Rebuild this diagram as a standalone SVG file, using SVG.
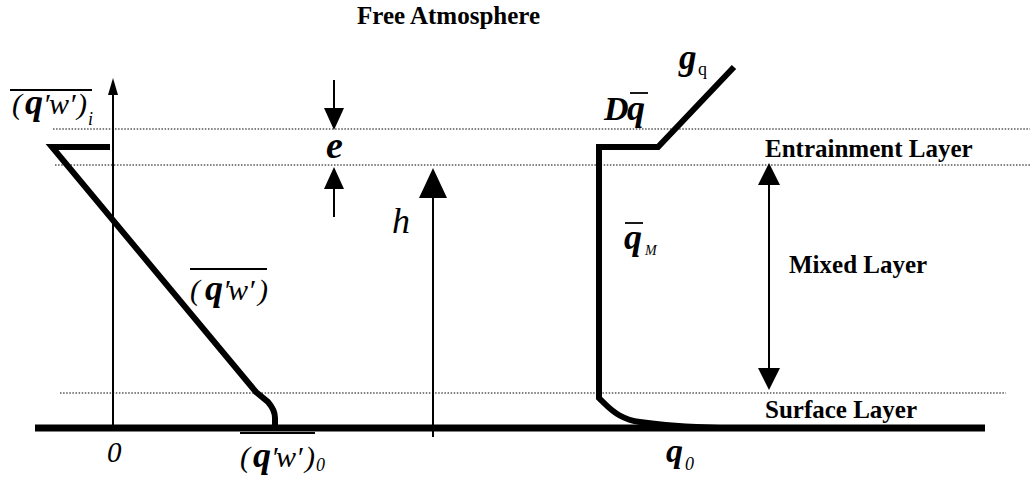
<svg xmlns="http://www.w3.org/2000/svg" width="1036" height="477" viewBox="0 0 1036 477">
<style>
.lbl{font-family:"Liberation Serif","Times New Roman",serif;font-weight:bold;font-size:25px;fill:#000}
.it{font-family:"Liberation Serif","Times New Roman",serif;font-style:italic;fill:#000}
.bi{font-family:"Liberation Serif","Times New Roman",serif;font-style:italic;font-weight:bold;fill:#000}
.b{font-weight:bold}
.rm{font-style:normal}
.dot{stroke:#000;stroke-width:1.2;stroke-dasharray:1.5 1.6;fill:none}
.thick{stroke:#000;stroke-width:6;fill:none;stroke-linejoin:miter}
.thin{stroke:#000;stroke-width:2;fill:none}
.ol{stroke:#000;stroke-width:1.8}
.head{fill:#000}
</style>
<rect width="1036" height="477" fill="#fff"/>
<g id="layers">
<line class="dot" x1="53" y1="129" x2="1030" y2="129"/>
<line class="dot" x1="55" y1="165" x2="1030" y2="165"/>
<line class="dot" x1="60" y1="393" x2="1006" y2="393"/>
</g>
<g id="ground"><line x1="35" y1="428" x2="985" y2="428" stroke="#000" stroke-width="7"/></g>
<g id="connectors">
<line class="thin" x1="113" y1="428" x2="113" y2="92"/>
<polygon class="head" points="113,78 108,95 118,95"/>
<line class="thin" x1="334" y1="80" x2="334" y2="110"/>
<polygon class="head" points="334,130 324,108 344,108"/>
<line class="thin" x1="334" y1="187" x2="334" y2="217"/>
<polygon class="head" points="334,167 324,189 344,189"/>
<line class="thin" x1="433" y1="196" x2="433" y2="437"/>
<polygon class="head" points="433,168 419,198 447,198"/>
<line class="thin" x1="769" y1="183" x2="769" y2="370"/>
<polygon class="head" points="769,163 758,185 780,185"/>
<polygon class="head" points="769,390 758,368 780,368"/>
</g>
<g id="flux-profile">
<path class="thick" d="M110,147 L52,147 L256,392 L268,402 Q275,410 275,418 L275,428"/>
</g>
<g id="theta-profile">
<path class="thick" d="M734,67 L658,147 L599,147 L599,398 L604,403 C614,413 624,420 640,422 C660,425 685,427 720,428"/>
</g>
<g id="label-flux-i">
<line class="ol" x1="10" y1="90" x2="92" y2="90"/>
<text class="it" font-size="30" y="114"><tspan x="12">(</tspan><tspan x="25" class="b" font-size="36">q</tspan><tspan x="43">′</tspan><tspan x="49">w</tspan><tspan x="69">′</tspan><tspan x="77">)</tspan><tspan x="88" y="125" font-size="18">i</tspan></text>
</g>
<g id="label-flux">
<line class="ol" x1="190" y1="269" x2="267" y2="269"/>
<text class="it" font-size="30" y="300"><tspan x="190">(</tspan><tspan x="205" class="b" font-size="36">q</tspan><tspan x="223">′</tspan><tspan x="228">w</tspan><tspan x="248">′</tspan><tspan x="258">)</tspan></text>
</g>
<g id="label-flux-0">
<line class="ol" x1="240" y1="433" x2="315" y2="433"/>
<text class="it" font-size="30" y="467"><tspan x="240">(</tspan><tspan x="253" class="b" font-size="36">q</tspan><tspan x="271">′</tspan><tspan x="276">w</tspan><tspan x="296">′</tspan><tspan x="305">)</tspan><tspan x="316" y="471" font-size="18">0</tspan></text>
</g>
<g id="label-zero"><text class="it" font-size="29" x="107" y="462">0</text></g>
<g id="label-e"><text class="bi" font-size="38" x="326" y="158">e</text></g>
<g id="label-h"><text class="it" font-size="36" x="392" y="233">h</text></g>
<g id="label-dq">
<text class="bi" y="120"><tspan x="604" font-size="34">D</tspan><tspan x="627" font-size="36">q</tspan></text>
<line class="ol" x1="630" y1="93" x2="648" y2="93"/>
</g>
<g id="label-gq">
<text class="bi" font-size="35" y="69"><tspan x="679">g</tspan><tspan x="698" y="75" font-size="18" class="rm" font-weight="normal">q</tspan></text>
</g>
<g id="label-thetaM">
<line class="ol" x1="625" y1="223" x2="643" y2="223"/>
<text class="bi" font-size="36" y="249"><tspan x="624">q</tspan><tspan x="645" y="255" font-size="14" font-weight="normal">M</tspan></text>
</g>
<g id="label-theta0">
<text class="bi" font-size="34" y="462"><tspan x="666">q</tspan><tspan x="685" y="470" font-size="18" font-weight="normal">0</tspan></text>
</g>
<g id="free-atmosphere"><text class="lbl" x="357" y="24">Free Atmosphere</text></g>
<g id="entrainment-layer"><text class="lbl" x="765" y="157">Entrainment Layer</text></g>
<g id="mixed-layer"><text class="lbl" x="789" y="273">Mixed Layer</text></g>
<g id="surface-layer"><text class="lbl" x="765" y="418">Surface Layer</text></g>
</svg>
